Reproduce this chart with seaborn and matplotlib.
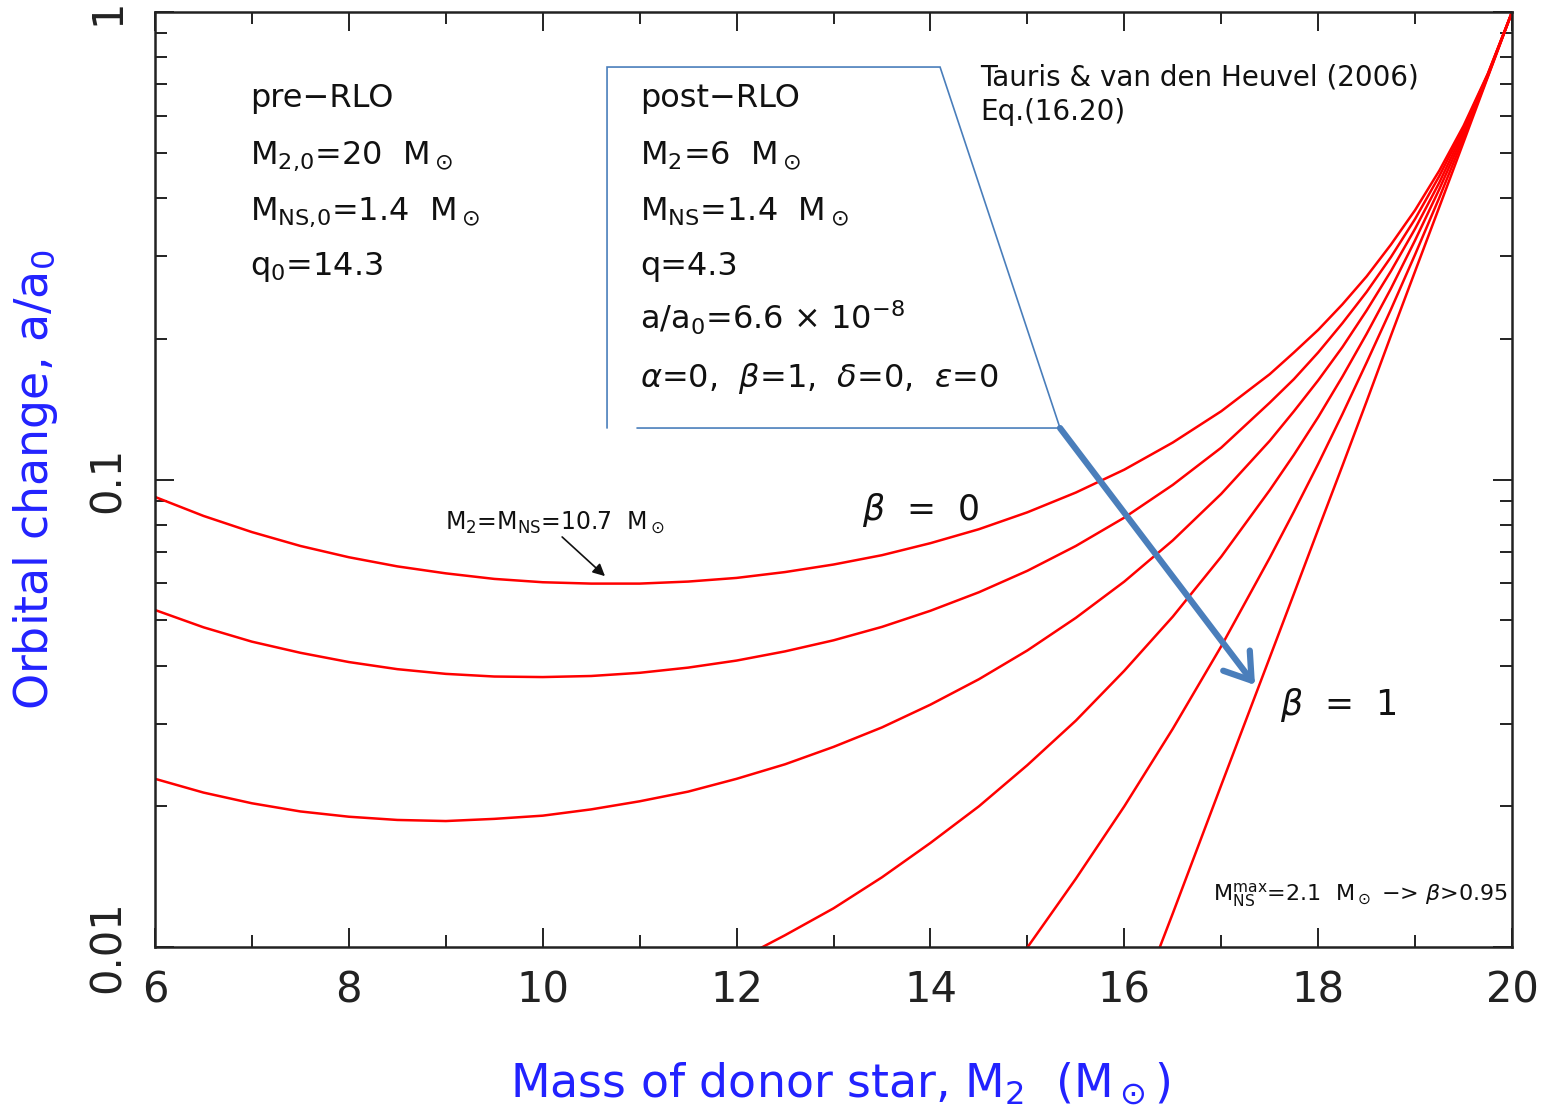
import matplotlib
matplotlib.use("Agg")
import matplotlib.pyplot as plt
import pandas as pd
import seaborn as sns
from matplotlib.ticker import FixedLocator, FixedFormatter, MultipleLocator, LogLocator, NullFormatter

# ---------------- data ----------------
beta_labels = ["0", "0.2", "0.4", "0.6", "0.8", "1"]

mass_grid = [6, 6.5, 7, 7.5, 8, 8.5, 9, 9.5, 10, 10.5, 11, 11.5, 12, 12.5, 13, 13.5, 14, 14.5,
             15, 15.5, 16, 16.5, 17, 17.5, 17.75, 18, 18.25, 18.5, 18.75, 19, 19.25, 19.5, 19.75, 20]
ratio_beta_00 = [0.0918, 0.0836, 0.0772, 0.0721, 0.0682, 0.0652, 0.0630, 0.0613, 0.0603, 0.0599,
                 0.0599, 0.0605, 0.0616, 0.0634, 0.0658, 0.0689, 0.0731, 0.0783, 0.0851, 0.0938,
                 0.105, 0.120, 0.140, 0.168, 0.187, 0.209, 0.237, 0.272, 0.318, 0.377,
                 0.458, 0.571, 0.738, 1.0]
ratio_beta_02 = [0.0526, 0.0483, 0.0450, 0.0426, 0.0407, 0.0393, 0.0384, 0.0379, 0.0378, 0.0380,
                 0.0386, 0.0396, 0.0410, 0.0429, 0.0453, 0.0484, 0.0524, 0.0574, 0.0638, 0.0721,
                 0.0829, 0.0974, 0.117, 0.146, 0.164, 0.187, 0.216, 0.252, 0.299, 0.361,
                 0.446, 0.564, 0.736, 1.0]
ratio_beta_04 = [0.0229, 0.0214, 0.0203, 0.0195, 0.0190, 0.0187, 0.0186, 0.0188, 0.0191, 0.0197,
                 0.0205, 0.0215, 0.0229, 0.0246, 0.0268, 0.0295, 0.0330, 0.0374, 0.0431, 0.0506,
                 0.0605, 0.0741, 0.0932, 0.121, 0.140, 0.163, 0.192, 0.230, 0.279, 0.344,
                 0.432, 0.556, 0.734, 1.0]

mass_beta_06 = [12, 12.5, 13, 13.5, 14, 14.5, 15, 15.5, 16, 16.5, 17, 17.5, 17.75, 18, 18.25,
                18.5, 18.75, 19, 19.25, 19.5, 19.75, 20]
ratio_beta_06 = [0.00935, 0.0106, 0.0121, 0.0141, 0.0167, 0.0200, 0.0245, 0.0305, 0.0390, 0.0509,
                 0.0684, 0.0949, 0.113, 0.136, 0.166, 0.205, 0.256, 0.325, 0.418, 0.547, 0.731, 1.0]

mass_beta_08 = [14, 14.5, 15, 15.5, 16, 16.5, 17, 17.5, 17.75, 18, 18.25, 18.5, 18.75, 19, 19.25,
                19.5, 19.75, 20]
ratio_beta_08 = [0.00539, 0.00726, 0.00998, 0.0140, 0.0200, 0.0293, 0.0440, 0.0680, 0.0854, 0.108,
                 0.138, 0.178, 0.231, 0.303, 0.401, 0.538, 0.729, 1.0]

mass_beta_10 = [16, 16.5, 17, 17.5, 17.75, 18, 18.25, 18.5, 18.75, 19, 19.25, 19.5, 19.75, 20]
ratio_beta_10 = [0.00634, 0.0118, 0.0222, 0.0416, 0.0570, 0.0782, 0.107, 0.147, 0.203, 0.279,
                 0.383, 0.527, 0.726, 1.0]

x_ticks = [6, 8, 10, 12, 14, 16, 18, 20]
x_tick_labels = ["6", "8", "10", "12", "14", "16", "18", "20"]
y_ticks = [0.01, 0.1, 1]
y_tick_labels = ["0.01", "0.1", "1"]

# ---------------- build long table ----------------
series = [
    (mass_grid, ratio_beta_00),
    (mass_grid, ratio_beta_02),
    (mass_grid, ratio_beta_04),
    (mass_beta_06, ratio_beta_06),
    (mass_beta_08, ratio_beta_08),
    (mass_beta_10, ratio_beta_10),
]
frames = []
for lab, (m, r) in zip(beta_labels, series):
    frames.append(pd.DataFrame({"mass": m, "ratio": r, "beta": lab}))
df = pd.concat(frames, ignore_index=True)

# ---------------- style ----------------
sns.set_theme(style="white")
plt.rcParams["font.family"] = ["DejaVu Sans"]
plt.rcParams["mathtext.fontset"] = "dejavusans"

RED = "#ff0000"
BLUE_LBL = "#2222ff"
CALLOUT = "#4a7ebb"

fig = plt.figure(figsize=(15.47, 11.16), dpi=100)
ax = fig.add_axes([0.1002, 0.1514, 0.8772, 0.8378])

sns.lineplot(data=df, x="mass", y="ratio", hue="beta", units="beta", estimator=None,
             palette={b: RED for b in beta_labels}, sort=True, legend=False,
             linewidth=1.8, ax=ax)

ax.set_yscale("log")
ax.set_xlim(6, 20)
ax.set_ylim(0.01, 1)

ax.xaxis.set_major_locator(FixedLocator(x_ticks))
ax.xaxis.set_major_formatter(FixedFormatter(x_tick_labels))
ax.xaxis.set_minor_locator(MultipleLocator(1))
ax.yaxis.set_major_locator(FixedLocator(y_ticks))
ax.yaxis.set_major_formatter(FixedFormatter(y_tick_labels))
ax.yaxis.set_minor_locator(LogLocator(base=10, subs=[2, 3, 4, 5, 6, 7, 8, 9]))
ax.yaxis.set_minor_formatter(NullFormatter())

ax.tick_params(which="both", direction="in", top=True, right=True, left=True, bottom=True,
               colors="#222222")
ax.tick_params(which="major", length=14, width=1.4)
ax.tick_params(which="minor", length=8.5, width=1.4)
ax.tick_params(axis="x", which="major", labelsize=30, pad=16)
ax.tick_params(axis="y", which="major", labelsize=30, pad=19, labelrotation=90)
for lab in ax.get_yticklabels():
    lab.set_va("center")
for sp in ax.spines.values():
    sp.set_color("#222222")
    sp.set_linewidth(1.8)
    sp.set_visible(True)

ax.set_xlabel(r"Mass of donor star, M$_2$  (M$_\odot$)", fontsize=33, color=BLUE_LBL)
ax.set_ylabel(r"Orbital change, a/a$_0$", fontsize=33, color=BLUE_LBL)
ax.xaxis.set_label_coords(0.5048, -0.121)
ax.yaxis.set_label_coords(-0.070, 0.5)

# ---------------- annotations ----------------
tkw = dict(transform=ax.transAxes, color="#111111", ha="left", va="baseline")
pre_lines = ["pre\u2212RLO", r"M$_{2{,}0}$=20  M$_\odot$", r"M$_{\rm NS{,}0}$=1.4  M$_\odot$",
             r"q$_0$=14.3"]
pre_y = [0.8984, 0.8374, 0.7775, 0.7187]
for s, y in zip(pre_lines, pre_y):
    ax.text(0.0700, y, s, fontsize=23, **tkw)

post_lines = ["post\u2212RLO", r"M$_2$=6  M$_\odot$", r"M$_{\rm NS}$=1.4  M$_\odot$", "q=4.3",
              r"a/a$_0$=6.6 $\times$ 10$^{-8}$",
              r"$\alpha$=0,  $\beta$=1,  $\delta$=0,  $\epsilon$=0"]
post_y = [0.8984, 0.8374, 0.7775, 0.7187, 0.6599, 0.5989]
for s, y in zip(post_lines, post_y):
    ax.text(0.3574, y, s, fontsize=23, **tkw)

ax.text(0.6080, 0.9219, "Tauris & van den Heuvel (2006)", fontsize=20, **tkw)
ax.text(0.6080, 0.8845, "Eq.(16.20)", fontsize=20, **tkw)

ax.text(0.5210, 0.4567, r"$\beta$  =  0", fontsize=25, **tkw)
ax.text(0.8290, 0.2481, r"$\beta$  =  1", fontsize=25, **tkw)

ax.text(0.2137, 0.4460, r"M$_2$=M$_{\rm NS}$=10.7  M$_\odot$", fontsize=17, **tkw)
ax.annotate("", xy=(0.3331, 0.3947), xytext=(0.2985, 0.4406), xycoords="axes fraction",
            textcoords="axes fraction",
            arrowprops=dict(arrowstyle="-|>", color="#111111", lw=1.2, mutation_scale=18))

ax.text(0.7797, 0.0503, r"M$_{\rm NS}^{\rm max}$=2.1  M$_\odot$ $-$> $\beta$>0.95", fontsize=16, **tkw)

# callout box
box_x = [0.3552, 0.6669, 0.5785, 0.3331, 0.3331]
box_y = [0.5551, 0.5551, 0.9412, 0.9412, 0.5551]
ax.plot(box_x, box_y, transform=ax.transAxes, color=CALLOUT, lw=1.2, clip_on=False,
        solid_joinstyle="miter")
ax.annotate("", xy=(0.8106, 0.2802), xytext=(0.6669, 0.5551), xycoords="axes fraction",
            textcoords="axes fraction",
            arrowprops=dict(arrowstyle="->,head_length=0.6,head_width=0.4", color=CALLOUT,
                            lw=4.5, mutation_scale=30, shrinkA=0, shrinkB=0))

fig.savefig("out.png", dpi=100, facecolor="white")
